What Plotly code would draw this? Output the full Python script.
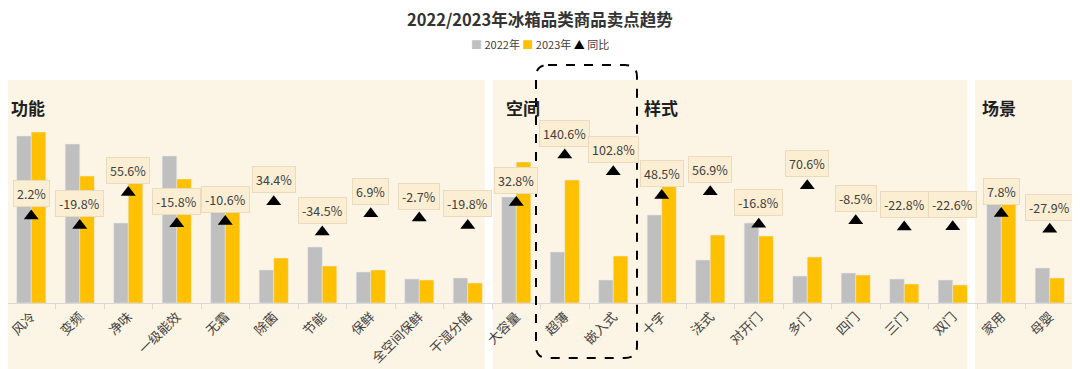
import plotly.graph_objects as go

categories = ["风冷", "变频", "净味", "一级能效", "无霜", "除菌", "节能", "保鲜", "全空间保鲜", "干湿分储",
              "大容量", "超薄", "嵌入式",
              "十字", "法式", "对开门", "多门", "四门", "三门", "双门",
              "家用", "母婴"]
sales_2022 = [167, 159, 80, 147, 104, 33, 56, 31, 24, 25,
              106, 51, 23,
              88, 43, 80, 27, 30, 24, 23,
              114, 35]
sales_2023 = [171, 127, 125, 124, 93, 45, 37, 33, 23, 20,
              141, 123, 47,
              131, 68, 67, 46, 28, 19, 18,
              123, 25]
yoy = [2.2, -19.8, 55.6, -15.8, -10.6, 34.4, -34.5, 6.9, -2.7, -19.8,
       32.8, 140.6, 102.8,
       48.5, 56.9, -16.8, 70.6, -8.5, -22.8, -22.6,
       7.8, -27.9]
groups = ["功能", "空间", "样式", "场景"]
title_text = "2022/2023年冰箱品类商品卖点趋势"

FONT = "Noto Sans CJK SC"
GRAY = "#BFBFBF"
YELLOW = "#FFC000"
PANEL = "#FCF4E4"

# the page body has an 8px margin: size the figure to fill the rest of the window
OFF = 8
W, H = 1080 - OFF, 369 - OFF
ML, MR, MT, MB = 0, 6, 80 - OFF, 66
PW, PH = W - ML - MR, H - MT - MB
n = len(categories)
CAT_W = 48.48
x_start = -0.5 + (OFF + ML - 7) / CAT_W

fig = go.Figure()
fig.add_trace(go.Bar(name="2022年", x=categories, y=sales_2022, marker_color=GRAY))
fig.add_trace(go.Bar(name="2023年", x=categories, y=sales_2023, marker_color=YELLOW))
fig.add_trace(go.Scatter(name="同比", x=categories, y=yoy, yaxis="y2", mode="markers",
                         marker=dict(symbol="triangle-up", size=13, color="#000000")))

# value labels
for c, v in zip(categories, yoy):
    fig.add_annotation(x=c, y=v, xref="x", yref="y2", text=f"{v:.1f}%", showarrow=False,
                       yshift=22, font=dict(family=FONT, size=12.5, color="#404040"),
                       bgcolor="#FBEED3", bordercolor="#EADBBE", borderwidth=1, borderpad=3)

# panel backgrounds (category-index based edges)
edges = [(x_start - 0.2, 9.35), (9.52, 19.30), (19.46, n - 0.3)]
for x0, x1 in edges:
    fig.add_shape(type="rect", xref="x", yref="paper", x0=x0, x1=x1, y0=-0.4, y1=1.0,
                  fillcolor=PANEL, line_width=0, layer="below")

# group headings
head_pos = [-0.53, 9.74, 12.6, 19.57]
for name, hx in zip(groups, head_pos):
    fig.add_annotation(x=max(hx, x_start + 0.02), y=0.875, xref="x", yref="paper", text=f"<b>{name}</b>",
                       showarrow=False, xanchor="left", yanchor="middle",
                       font=dict(family=FONT, size=17, color="#1F1F1F"))


# page pixel -> paper coords
def px(xp):
    return (xp - OFF - ML) / PW


def py(yp):
    return (H - MB - (yp - OFF)) / PH


# dashed rounded highlight box around 超薄 / 嵌入式
L, R, T, B, r = 536, 637, 65, 358, 12
path = (f"M {px(L + r)},{py(T)} L {px(R - r)},{py(T)} Q {px(R)},{py(T)} {px(R)},{py(T + r)} "
        f"L {px(R)},{py(B - r)} Q {px(R)},{py(B)} {px(R - r)},{py(B)} "
        f"L {px(L + r)},{py(B)} Q {px(L)},{py(B)} {px(L)},{py(B - r)} "
        f"L {px(L)},{py(T + r)} Q {px(L)},{py(T)} {px(L + r)},{py(T)} Z")
fig.add_shape(type="path", xref="paper", yref="paper", path=path,
              line=dict(color="#000000", width=2, dash="dash"), layer="above")

# title as annotation
fig.add_annotation(x=px(540), y=py(19), xref="paper", yref="paper", text=f"<b>{title_text}</b>",
                   showarrow=False, xanchor="center", yanchor="middle",
                   font=dict(family=FONT, size=16.5, color="#333333"))

# legend drawn as text
legend_txt = (f"<span style='color:{GRAY}'>■</span> 2022年 "
              f"<span style='color:{YELLOW}'>■</span> 2023年 "
              f"<span style='color:#000000'>▲</span> 同比")
fig.add_annotation(x=px(540), y=py(44), xref="paper", yref="paper", text=legend_txt, showarrow=False,
                   xanchor="center", yanchor="middle", font=dict(family=FONT, size=11, color="#404040"))

fig.update_layout(
    width=W, height=H,
    margin=dict(l=ML, r=MR, t=MT, b=MB, autoexpand=False),
    paper_bgcolor="#FFFFFF", plot_bgcolor="rgba(0,0,0,0)",
    barmode="group", bargap=0.4, bargroupgap=0,
    showlegend=False,
    font=dict(family=FONT),
    xaxis=dict(type="category", range=[x_start, n - 0.5], tickangle=-45, showgrid=False,
               showline=True, linecolor="#D9D9D9", ticks="outside", tickson="boundaries",
               ticklen=5, tickcolor="#D9D9D9", automargin=False,
               tickfont=dict(family=FONT, size=13, color="#404040")),
    yaxis=dict(range=[0, PH], visible=False, showgrid=False),
    yaxis2=dict(range=[-195.7, 311.1], overlaying="y", visible=False, showgrid=False),
)

fig.write_html("out.html")
